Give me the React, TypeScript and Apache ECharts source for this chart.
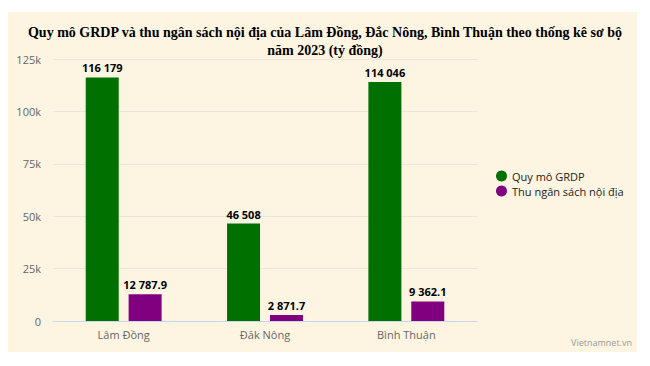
import React, { useEffect, useRef } from "react";
import * as echarts from "echarts";

const categories = ["Lâm Đồng", "Đăk Nông", "Bình Thuận"];
const grdp = [116179, 46508, 114046];
const budget = [12787.9, 2871.7, 9362.1];
const seriesNames = ["Quy mô GRDP", "Thu ngân sách nội địa"];
const titleText = "Quy mô GRDP và thu ngân sách nội địa của Lâm Đồng, Đắc Nông, Bình Thuận theo thống kê sơ bộ\nnăm 2023 (tỷ đồng)";
const creditText = "Vietnamnet.vn";

const fmt = (v: number) => {
  const parts = String(v).split(".");
  parts[0] = parts[0].replace(/\B(?=(\d{3})+(?!\d))/g, " ");
  return parts.join(".");
};

export default function App() {
  const ref = useRef<HTMLDivElement>(null);
  useEffect(() => {
    if (!ref.current) return;
    const chart = echarts.init(ref.current, undefined, { renderer: "svg" });
    const labelStyle = {
      show: true,
      position: "top" as const,
      distance: 4,
      fontFamily: "Open Sans",
      fontSize: 11,
      fontWeight: "bold" as const,
      color: "#000",
      formatter: (p: any) => fmt(p.value),
    };
    chart.setOption({
      animation: false,
      backgroundColor: "#ffffff",
      graphic: [
        {
          type: "rect",
          shape: { x: 8, y: 12, width: 629, height: 340 },
          style: { fill: "#fdf5e1" },
          z: -10,
          silent: true,
        },
        {
          type: "text",
          right: 18,
          top: 338,
          style: { text: creditText, fill: "#999", fontSize: 9, fontFamily: "Open Sans" },
        },
      ],
      title: {
        text: titleText,
        left: "center",
        top: 18,
        textStyle: {
          fontFamily: "Liberation Serif",
          fontWeight: "bold",
          fontSize: 14,
          color: "#000",
          lineHeight: 18,
        },
      },
      legend: {
        orient: "vertical",
        left: 491,
        top: 165,
        icon: "circle",
        itemWidth: 11,
        itemHeight: 11,
        itemGap: 3,
        textStyle: { fontFamily: "Open Sans", fontSize: 11, color: "#222", lineHeight: 12 },
        data: seriesNames,
      },
      grid: { left: 53, right: 173, top: 59, bottom: 45, containLabel: false },
      xAxis: {
        type: "category",
        data: categories,
        axisLine: { lineStyle: { color: "#ccd6eb" } },
        axisTick: { show: false },
        axisLabel: { fontFamily: "Open Sans", fontSize: 11, color: "#666", margin: 8 },
      },
      yAxis: {
        type: "value",
        min: 0,
        max: 125000,
        interval: 25000,
        axisLabel: {
          fontFamily: "Open Sans",
          fontSize: 11,
          color: "#666",
          margin: 12,
          formatter: (v: number) => (v === 0 ? "0" : v / 1000 + "k"),
        },
        splitLine: { lineStyle: { color: "#eae6da" } },
      },
      series: [
        {
          name: seriesNames[0],
          type: "bar",
          data: grdp,
          barWidth: 33,
          barGap: "30%",
          itemStyle: { color: "#007000" },
          label: labelStyle,
        },
        {
          name: seriesNames[1],
          type: "bar",
          data: budget,
          barWidth: 33,
          itemStyle: { color: "#800080" },
          label: labelStyle,
        },
      ],
    });
    return () => chart.dispose();
  }, []);
  return (
    <div
      ref={ref}
      style={{ position: "fixed", left: 0, top: 0, width: 650, height: 366 }}
    />
  );
}
